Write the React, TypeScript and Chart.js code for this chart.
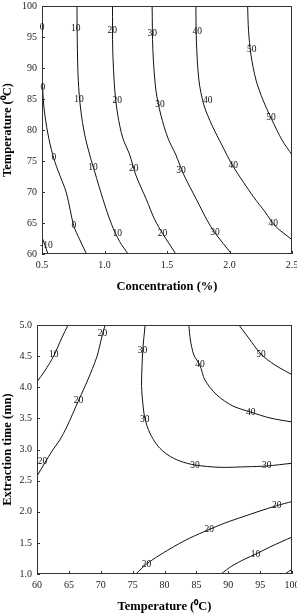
import React, { useEffect, useRef } from "react";
import { Chart, registerables } from "chart.js";

Chart.register(...registerables);

const SERIF = '"Liberation Serif", "Times New Roman", Times, serif';

// ---------- Top chart: Concentration (%) vs Temperature (°C) ----------
const concTicks = [0.5, 1.0, 1.5, 2.0, 2.5];
const tempTicksTop = [60, 65, 70, 75, 80, 85, 90, 95, 100];

const topLevelNeg10 = [[0.5, 62.73], [0.548, 60]];
const topLevel0 = [
  [0.5, 100], [0.5, 91.26], [0.506, 86.44], [0.518, 83.22], [0.546, 79.52],
  [0.586, 75.98], [0.626, 73.56], [0.695, 69.86], [0.754, 64.55], [0.802, 62.3], [0.856, 60],
];
const topLevel10 = [
  [0.78, 100], [0.782, 94.48], [0.79, 88.05], [0.81, 83.22], [0.842, 79.2], [0.882, 75.98],
  [0.922, 73.24], [0.989, 68.74], [1.058, 64.71], [1.122, 61.98], [1.189, 60],
];
const topLevel20 = [
  [1.064, 100], [1.066, 92.87], [1.082, 86.44], [1.106, 82.41], [1.146, 78.71], [1.202, 75.98],
  [1.25, 72.76], [1.336, 68.74], [1.402, 65.52], [1.466, 63.27], [1.571, 60],
];
const topLevel30 = [
  [1.381, 100], [1.387, 92.87], [1.411, 86.44], [1.451, 82.41], [1.507, 78.71], [1.571, 75.98],
  [1.635, 72.76], [1.737, 68.74], [1.819, 65.52], [1.883, 63.43], [2.017, 60],
];
const topLevel40 = [
  [1.731, 100], [1.735, 94.48], [1.755, 88.05], [1.795, 84.02], [1.859, 80.8], [1.939, 77.58],
  [2.027, 74.2], [2.19, 69.27], [2.284, 66.8], [2.364, 64.55], [2.5, 62.3],
];
const topLevel50 = [
  [2.145, 100], [2.152, 96.09], [2.172, 92.07], [2.212, 88.05], [2.268, 84.83],
  [2.34, 81.61], [2.42, 78.39], [2.5, 75.98],
];
const topLabels: [number, number, string][] = [
  [0.5, 96.6, "0"], [0.506, 86.8, "0"], [0.594, 75.6, "0"], [0.754, 64.6, "0"],
  [0.535, 61.4, "-10"],
  [0.77, 96.36, "10"], [0.796, 84.99, "10"], [0.908, 73.93, "10"], [1.101, 63.27, "10"],
  [1.061, 95.98, "20"], [1.101, 84.71, "20"], [1.234, 73.72, "20"], [1.464, 63.38, "20"],
  [1.381, 95.56, "30"], [1.443, 84.18, "30"], [1.611, 73.45, "30"], [1.883, 63.48, "30"],
  [1.741, 95.93, "40"], [1.825, 84.71, "40"], [2.03, 74.21, "40"], [2.35, 64.88, "40"],
  [2.177, 92.98, "50"], [2.332, 82.04, "50"],
];

// ---------- Bottom chart: Temperature (°C) vs Extraction time (mn) ----------
const tempTicksBottom = [60, 65, 70, 75, 80, 85, 90, 95, 100];
const timeTicks = [1.0, 1.5, 2.0, 2.5, 3.0, 3.5, 4.0, 4.5, 5.0];

const botLevel10a = [[60, 4.089], [61.21, 4.261], [62.62, 4.502], [63.88, 4.791], [64.87, 5.0]];
const botLevel20a = [
  [70.68, 5.0], [70.24, 4.839], [69.38, 4.486], [67.96, 4.116], [66.55, 3.795],
  [64.66, 3.361], [63.57, 3.153], [62.47, 2.992], [61.21, 2.783], [60, 2.574],
];
const botLevel30 = [
  [76.96, 5.0], [76.6, 4.598], [76.4, 4.068], [76.52, 3.827], [76.91, 3.506], [77.7, 3.265],
  [78.96, 3.056], [80.53, 2.912], [82.41, 2.815], [84.77, 2.751], [88.69, 2.714],
  [92.89, 2.723], [96.03, 2.735], [100, 2.779],
];
const botLevel40 = [
  [83.82, 5.0], [84.06, 4.759], [84.61, 4.518], [85.55, 4.357], [86.34, 4.116],
  [88.22, 3.875], [90.73, 3.699], [93.51, 3.602], [96.55, 3.506], [100, 3.442],
];
const botLevel50 = [[91.68, 5.0], [93.09, 4.807], [95.13, 4.534], [97.33, 4.357], [100, 4.202]];
const botLevel20b = [
  [75.5, 1.0], [77.18, 1.161], [79.27, 1.305], [81.63, 1.45], [83.98, 1.578], [87.01, 1.715],
  [89.48, 1.819], [92.31, 1.92], [94.98, 2.012], [97.6, 2.097], [100, 2.165],
];
const botLevel10b = [[88.85, 1.0], [90.58, 1.129], [92.62, 1.241], [94.35, 1.321], [96.54, 1.434], [100, 1.594]];
const botLevel0 = [[98.9, 1.0], [100, 1.075]];
const botLabels: [number, number, string][] = [
  [62.62, 4.529, "10"],
  [70.27, 4.867, "20"], [66.5, 3.795, "20"], [60.85, 2.804, "20"],
  [76.55, 4.598, "30"], [76.91, 3.474, "30"], [84.77, 2.751, "30"], [96.03, 2.735, "30"],
  [85.55, 4.362, "40"], [93.51, 3.602, "40"],
  [95.13, 4.523, "50"],
  [77.18, 1.156, "20"], [87.01, 1.715, "20"], [97.6, 2.097, "20"],
  [94.27, 1.317, "10"],
];

const toLine = (pts: number[][]) => ({
  data: pts.map(([x, y]) => ({ x, y })),
  showLine: true,
  pointRadius: 0,
  borderColor: "#111",
  borderWidth: 1,
  tension: 0.3,
  fill: false,
});

const decorPlugin = {
  id: "decor",
  afterDatasetsDraw(chart: any, _args: any, opts: any) {
    const { ctx, chartArea: a, scales } = chart;
    const x = scales.x;
    const y = scales.y;
    ctx.save();
    ctx.strokeStyle = "#333";
    ctx.lineWidth = 1;
    ctx.strokeRect(a.left + 0.5, a.top + 0.5, a.right - a.left - 1, a.bottom - a.top - 1);
    ctx.beginPath();
    for (const t of x.ticks) {
      const px = Math.round(x.getPixelForValue(t.value)) + 0.5;
      ctx.moveTo(px, a.bottom);
      ctx.lineTo(px, a.bottom - 3);
    }
    for (const t of y.ticks) {
      const py = Math.round(y.getPixelForValue(t.value)) + 0.5;
      ctx.moveTo(a.left, py);
      ctx.lineTo(a.left + 3, py);
    }
    ctx.stroke();
    ctx.font = `9.5px ${SERIF}`;
    ctx.fillStyle = "#111";
    ctx.textAlign = "center";
    ctx.textBaseline = "middle";
    for (const [lx, ly, s] of opts.labels as [number, number, string][]) {
      ctx.fillText(s, x.getPixelForValue(lx), y.getPixelForValue(ly));
    }
    ctx.restore();
  },
};

type Cfg = {
  series: number[][][];
  labels: [number, number, string][];
  xMin: number; xMax: number; xTicks: number[]; xFmt: (v: number) => string; xTitle: string;
  yMin: number; yMax: number; yTicks: number[]; yFmt: (v: number) => string; yTitle: string;
  yWidth: number; xHeight: number; padTop: number; xTitlePad: number; yTitlePad: number;
};

function ContourChart({ cfg, width, height }: { cfg: Cfg; width: number; height: number }) {
  const ref = useRef<HTMLCanvasElement | null>(null);
  useEffect(() => {
    if (!ref.current) return;
    const tickFont = { family: SERIF, size: 10 };
    const titleFont = { family: SERIF, size: 12.5, weight: "bold" as const };
    const chart = new Chart(ref.current, {
      type: "scatter",
      data: { datasets: cfg.series.map(toLine) as any },
      plugins: [decorPlugin as any],
      options: {
        animation: false,
        responsive: false,
        devicePixelRatio: 1,
        layout: { padding: { left: 0, top: cfg.padTop, right: width - 292, bottom: 0 } },
        plugins: {
          legend: { display: false },
          tooltip: { enabled: false },
          decor: { labels: cfg.labels },
        } as any,
        scales: {
          x: {
            type: "linear",
            min: cfg.xMin,
            max: cfg.xMax,
            afterBuildTicks: (s: any) => { s.ticks = cfg.xTicks.map((v) => ({ value: v })); },
            afterFit: (s: any) => { s.height = cfg.xHeight; s.paddingLeft = 0; s.paddingRight = 0; },
            grid: { display: false, drawTicks: false },
            border: { display: false },
            ticks: {
              font: tickFont, color: "#222", padding: 5, maxRotation: 0, autoSkip: false,
              callback: (v: any) => cfg.xFmt(Number(v)),
            },
            title: {
              display: true, text: cfg.xTitle, font: titleFont, color: "#000",
              padding: { top: 0, bottom: cfg.xTitlePad },
            },
          },
          y: {
            type: "linear",
            min: cfg.yMin,
            max: cfg.yMax,
            afterBuildTicks: (s: any) => { s.ticks = cfg.yTicks.map((v) => ({ value: v })); },
            afterFit: (s: any) => { s.width = cfg.yWidth; s.paddingTop = 0; s.paddingBottom = 0; },
            grid: { display: false, drawTicks: false },
            border: { display: false },
            ticks: {
              font: tickFont, color: "#222", padding: 5, autoSkip: false,
              callback: (v: any) => cfg.yFmt(Number(v)),
            },
            title: {
              display: true, text: cfg.yTitle, font: titleFont, color: "#000",
              padding: { top: cfg.yTitlePad, bottom: 0 },
            },
          },
        },
      } as any,
    });
    return () => chart.destroy();
  }, [cfg, width, height]);
  return <canvas ref={ref} width={width} height={height} style={{ display: "block", width, height }} />;
}

const topCfg: Cfg = {
  series: [topLevelNeg10, topLevel0, topLevel10, topLevel20, topLevel30, topLevel40, topLevel50],
  labels: topLabels,
  xMin: 0.5, xMax: 2.5, xTicks: concTicks, xFmt: (v) => v.toFixed(1), xTitle: "Concentration (%)",
  yMin: 60, yMax: 100, yTicks: tempTicksTop, yFmt: (v) => String(v), yTitle: "Temperature (\u2070C)",
  yWidth: 42, xHeight: 46, padTop: 6, xTitlePad: 5.5, yTitlePad: 0.5,
};

const botCfg: Cfg = {
  series: [botLevel10a, botLevel20a, botLevel30, botLevel40, botLevel50, botLevel20b, botLevel10b, botLevel0],
  labels: botLabels,
  xMin: 60, xMax: 100, xTicks: tempTicksBottom, xFmt: (v) => String(v), xTitle: "Temperature (\u2070C)",
  yMin: 1, yMax: 5, yTicks: timeTicks, yFmt: (v) => v.toFixed(1), yTitle: "Extraction time (mn)",
  yWidth: 37, xHeight: 42, padTop: 25, xTitlePad: 1.8, yTitlePad: 0,
};

export default function App() {
  return (
    <div style={{ position: "absolute", left: 0, top: 0, width: 297, height: 616, overflow: "hidden", background: "#fff" }}>
      <div style={{ position: "absolute", left: 0, top: 0 }}>
        <ContourChart cfg={topCfg} width={310} height={300} />
      </div>
      <div style={{ position: "absolute", left: 0, top: 300 }}>
        <ContourChart cfg={botCfg} width={310} height={316} />
      </div>
    </div>
  );
}
